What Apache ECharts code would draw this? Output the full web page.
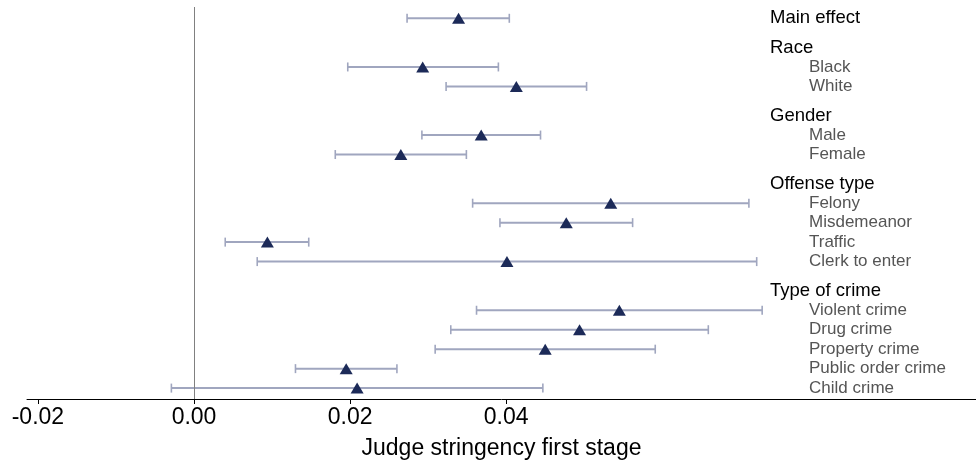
<!DOCTYPE html>
<html>
<head>
<meta charset="utf-8">
<script src="https://cdn.jsdelivr.net/npm/echarts@6/dist/echarts.min.js"></script>
<style>
html,body{margin:0;padding:0;background:#fff;}
#chart{width:976px;height:468px;}
</style>
</head>
<body>
<div id="chart"></div>
<script>
// ---- data ----
const mainLabel = 'Main effect';
const groupHeaders = ['Race', 'Gender', 'Offense type', 'Type of crime'];
const groupItems = [
  ['Black', 'White'],
  ['Male', 'Female'],
  ['Felony', 'Misdemeanor', 'Traffic', 'Clerk to enter'],
  ['Violent crime', 'Drug crime', 'Property crime', 'Public order crime', 'Child crime']
];
// order: Main effect, then group items in order
const estimate = [0.0339, 0.0293, 0.0413, 0.0368, 0.0265, 0.0534, 0.0477, 0.0094, 0.0401, 0.0545, 0.0494, 0.0450, 0.0195, 0.0209];
const ciLow    = [0.0273, 0.0197, 0.0323, 0.0292, 0.0181, 0.0357, 0.0392, 0.0040, 0.0081, 0.0362, 0.0329, 0.0309, 0.0130, -0.0029];
const ciHigh   = [0.0404, 0.0390, 0.0503, 0.0444, 0.0349, 0.0711, 0.0562, 0.0147, 0.0721, 0.0728, 0.0659, 0.0591, 0.0260, 0.0447];
const xTicks = [-0.02, 0.00, 0.02, 0.04];
const xTitle = 'Judge stringency first stage';

// ---- build row layout ----
const rowPos = [0];
const labelMap = {};
labelMap['0.00'] = {text: mainLabel, head: true};
let cur = 0;
groupHeaders.forEach((h, gi) => {
  const hp = cur + 1.5;
  labelMap[hp.toFixed(2)] = {text: h, head: true};
  cur = hp;
  groupItems[gi].forEach(it => {
    cur += 1;
    rowPos.push(cur);
    labelMap[cur.toFixed(2)] = {text: it, head: false};
  });
});
const labelValues = Object.keys(labelMap).map(Number);

const ciData = rowPos.map((p, i) => [ciLow[i], ciHigh[i], p]);
const ptData = rowPos.map((p, i) => [estimate[i], p]);

const FONT = "'Liberation Sans', Arial, Helvetica, sans-serif";
const CI_COLOR = '#a0a6bf';
const MK_COLOR = '#1c2a58';

const chart = echarts.init(document.getElementById('chart'), null, {renderer: 'canvas'});
chart.setOption({
  backgroundColor: '#ffffff',
  animation: false,
  grid: {left: 27, right: 0, top: 7, bottom: 69, containLabel: false, outerBoundsMode: 'none'},
  xAxis: {
    type: 'value',
    min: -0.0214,
    max: 0.1002,
    position: 'bottom',
    axisLine: {show: true, onZero: false, lineStyle: {color: '#000', width: 1}},
    axisTick: {show: true, length: 5, lineStyle: {color: '#000', width: 1}, customValues: xTicks},
    axisLabel: {
      customValues: xTicks,
      formatter: v => v.toFixed(2),
      fontFamily: FONT, fontSize: 23, color: '#000',
      verticalAlign: 'middle', margin: 19
    },
    splitLine: {show: false},
    name: xTitle,
    nameLocation: 'middle',
    nameGap: 50,
    nameTextStyle: {fontFamily: FONT, fontSize: 23, color: '#000', verticalAlign: 'middle'}
  },
  yAxis: {
    type: 'value',
    inverse: true,
    min: -0.58,
    max: 19.56,
    position: 'right',
    axisLine: {show: false, onZero: false},
    axisTick: {show: false},
    splitLine: {show: false},
    axisLabel: {
      inside: true,
      align: 'left',
      margin: 206,
      customValues: labelValues,
      formatter: v => {
        const e = labelMap[Number(v).toFixed(2)];
        if (!e) return '';
        return e.head ? '{h|' + e.text + '}' : '{s|' + e.text + '}';
      },
      rich: {
        h: {fontFamily: FONT, fontSize: 18.5, color: '#000'},
        s: {fontFamily: FONT, fontSize: 17, color: '#555', padding: [0, 0, 0, 39]}
      }
    }
  },
  series: [
    {
      type: 'custom',
      silent: true,
      z: 2,
      data: ciData,
      encode: {x: [0, 1], y: 2},
      renderItem: (params, api) => {
        const a = api.coord([api.value(0), api.value(2)]);
        const b = api.coord([api.value(1), api.value(2)]);
        const h = 4.5;
        const st = {stroke: CI_COLOR, lineWidth: 2};
        return {
          type: 'group',
          children: [
            {type: 'line', shape: {x1: a[0], y1: a[1], x2: b[0], y2: b[1]}, style: st},
            {type: 'line', shape: {x1: a[0], y1: a[1] - h, x2: a[0], y2: a[1] + h}, style: {stroke: CI_COLOR, lineWidth: 1.6}},
            {type: 'line', shape: {x1: b[0], y1: b[1] - h, x2: b[0], y2: b[1] + h}, style: {stroke: CI_COLOR, lineWidth: 1.6}}
          ]
        };
      }
    },
    {
      type: 'scatter',
      z: 3,
      data: ptData,
      symbol: 'triangle',
      symbolSize: [13, 11],
      itemStyle: {color: MK_COLOR, opacity: 1},
      markLine: {
        silent: true,
        symbol: 'none',
        label: {show: false},
        lineStyle: {color: '#808080', width: 1, type: 'solid'},
        data: [{xAxis: 0}]
      }
    }
  ]
});
</script>
</body>
</html>
